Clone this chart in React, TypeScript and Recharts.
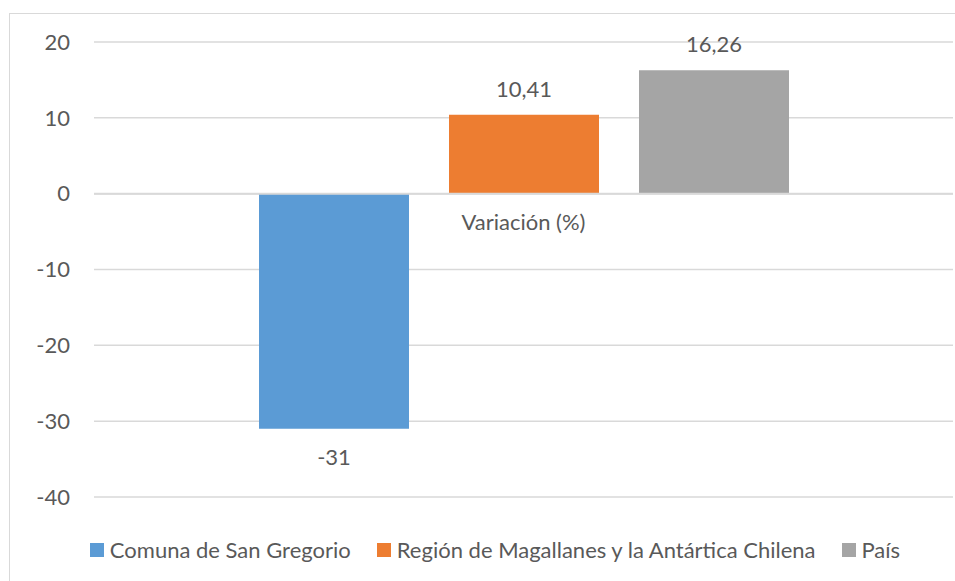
import React from 'react';
import {
  BarChart,
  Bar,
  XAxis,
  YAxis,
  CartesianGrid,
  ReferenceLine,
  Legend,
  LabelList,
} from 'recharts';

const categories = ['Variación (%)'];
const seriesNames = ['Comuna de San Gregorio', 'Región de Magallanes y la Antártica Chilena', 'País'];
const comunaValues = [-31];
const regionValues = [10.41];
const paisValues = [16.26];
const yTicks = [-40, -30, -20, -10, 0, 10, 20];

const colors = ['#5B9BD5', '#ED7D31', '#A5A5A5'];
const textColor = '#595959';
const gridColor = '#D9D9D9';
const font = 'Lato, "Open Sans", sans-serif';
const fs = 22;

const data = categories.map((cat, i) => ({
  cat,
  comuna: comunaValues[i],
  region: regionValues[i],
  pais: paisValues[i],
}));

const fmt = (v: any) => String(v).replace('.', ',');

function LegendContent(props: any) {
  const items = [...(props.payload || [])].sort(
    (a: any, b: any) => seriesNames.indexOf(a.value) - seriesNames.indexOf(b.value)
  );
  return (
    <div
      style={{
        display: 'flex',
        justifyContent: 'center',
        alignItems: 'center',
        gap: 26,
        fontFamily: font,
        fontSize: fs,
        color: textColor,
        lineHeight: '26px',
      }}
    >
      {items.map((e: any) => (
        <span key={e.value} style={{ display: 'flex', alignItems: 'center' }}>
          <span
            style={{
              display: 'inline-block',
              width: 14,
              height: 14,
              background: e.color,
              marginRight: 6,
            }}
          />
          {e.value}
        </span>
      ))}
    </div>
  );
}

export default function App() {
  return (
    <div
      style={{
        position: 'fixed',
        left: 0,
        top: 0,
        width: 955,
        height: 581,
        overflow: 'hidden',
        background: '#fff',
      }}
    >
      <div
        style={{
          position: 'absolute',
          left: 9,
          top: 13,
          width: 972,
          height: 620,
          border: `1px solid ${gridColor}`,
          boxSizing: 'border-box',
        }}
      >
        <BarChart
          width={970}
          height={618}
          data={data}
          margin={{ top: 28, right: 27, bottom: 135, left: 0 }}
          barSize={150}
          barGap={40}
        >
          <CartesianGrid vertical={false} stroke={gridColor} strokeWidth={1.5} />
          <XAxis dataKey="cat" hide />
          <YAxis
            width={84}
            domain={[-40, 20]}
            ticks={yTicks}
            axisLine={false}
            tickLine={false}
            tickMargin={18}
            tick={{ fill: textColor, fontSize: fs, fontFamily: font }}
          />
          <ReferenceLine
            y={0}
            stroke={gridColor}
            strokeWidth={2}
            label={{
              value: categories[0],
              position: 'bottom',
              offset: 21,
              fill: textColor,
              fontSize: fs,
              fontFamily: font,
            }}
          />
          <Legend
            verticalAlign="middle"
            align="center"
            layout="horizontal"
            content={<LegendContent />}
            wrapperStyle={{ left: 0, top: 523, width: 970 }}
          />
          <Bar dataKey="comuna" name={seriesNames[0]} fill={colors[0]} isAnimationActive={false}>
            <LabelList
              dataKey="comuna"
              position="top"
              offset={21}
              formatter={fmt}
              fill={textColor}
              fontSize={fs}
              fontFamily={font}
            />
          </Bar>
          <Bar dataKey="region" name={seriesNames[1]} fill={colors[1]} isAnimationActive={false}>
            <LabelList
              dataKey="region"
              position="top"
              offset={18}
              formatter={fmt}
              fill={textColor}
              fontSize={fs}
              fontFamily={font}
            />
          </Bar>
          <Bar dataKey="pais" name={seriesNames[2]} fill={colors[2]} isAnimationActive={false}>
            <LabelList
              dataKey="pais"
              position="top"
              offset={18}
              formatter={fmt}
              fill={textColor}
              fontSize={fs}
              fontFamily={font}
            />
          </Bar>
        </BarChart>
      </div>
    </div>
  );
}
